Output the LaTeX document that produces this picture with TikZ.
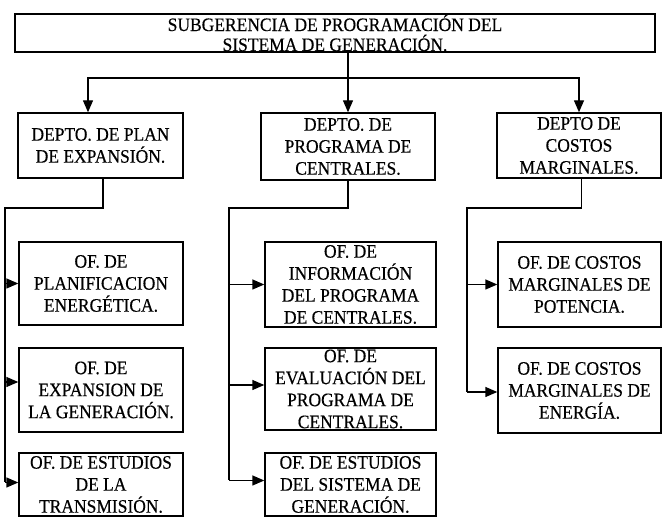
\documentclass[tikz,border=0pt]{standalone}
\usepackage{fontspec}
\setmainfont[FakeStretch=0.92, FakeBold=0.4]{Liberation Serif}
\usepackage{tikz}
\usetikzlibrary{arrows.meta}

\begin{document}
\begin{tikzpicture}[x=1pt, y=-1pt,
    unit/.style={draw, line width=1.4pt, align=center, inner sep=0pt,
      font=\fontsize{19}{22}\selectfont},
    link/.style={draw, line width=1.4pt},
    linkarrow/.style={link, -{Triangle[length=12pt, width=10pt]}}]
  \useasboundingbox (0,0) rectangle (662,518);
  % subgerencia
  \node[unit, minimum width=640pt, minimum height=38pt,
    font=\fontsize{19}{20}\selectfont] (sub) at (335,33)
    {SUBGERENCIA DE PROGRAMACIÓN DEL\\SISTEMA DE GENERACIÓN.};
  % departamentos
  \node[unit, minimum width=165pt, minimum height=65pt] (plan) at (100.5,145.5)
    {DEPTO. DE PLAN\\DE EXPANSIÓN.};
  \node[unit, minimum width=174pt, minimum height=67pt] (prog) at (348,146.5)
    {DEPTO. DE\\PROGRAMA DE\\CENTRALES.};
  \node[unit, minimum width=164pt, minimum height=65pt] (cost) at (579,145.5)
    {DEPTO DE\\COSTOS\\MARGINALES.};
  % oficinas
  \node[unit, minimum width=164pt, minimum height=83pt] (planA) at (101,283.5)
    {OF. DE\\PLANIFICACION\\ENERGÉTICA.};
  \node[unit, minimum width=164pt, minimum height=84pt] (planB) at (101,390)
    {OF. DE\\EXPANSION DE\\LA GENERACIÓN.};
  \node[unit, minimum width=164pt, minimum height=63pt] (planC) at (101,484.5)
    {OF. DE ESTUDIOS\\DE LA\\TRANSMISIÓN.};
  \node[unit, minimum width=171pt, minimum height=85pt] (progA) at (350.5,284.5)
    {OF. DE\\INFORMACIÓN\\DEL PROGRAMA\\DE CENTRALES.};
  \node[unit, minimum width=171pt, minimum height=82pt] (progB) at (350.5,389)
    {OF. DE\\EVALUACIÓN DEL\\PROGRAMA DE\\CENTRALES.};
  \node[unit, minimum width=171pt, minimum height=63pt] (progC) at (350.5,484.5)
    {OF. DE ESTUDIOS\\DEL SISTEMA DE\\GENERACIÓN.};
  \node[unit, minimum width=163pt, minimum height=85pt] (costA) at (579.5,284.5)
    {OF. DE COSTOS\\MARGINALES DE\\POTENCIA.};
  \node[unit, minimum width=163pt, minimum height=85pt] (costB) at (579.5,390.5)
    {OF. DE COSTOS\\MARGINALES DE\\ENERGÍA.};
  % entradas de las flechas
  \coordinate (planBin) at ([yshift=8pt]planB.west);
  \coordinate (planCin) at ([yshift=2pt]planC.west);
  \coordinate (progBin) at ([yshift=4pt]progB.west);
  \coordinate (progCin) at ([yshift=4pt]progC.west);
  \coordinate (costBin) at ([yshift=-1.5pt]costB.west);
  % subgerencia -> departamentos
  \coordinate (top) at (348,78);
  \draw[link] (sub.south -| top) -- (top);
  \draw[linkarrow] (top) -| ([xshift=-12.5pt]plan.north);
  \draw[linkarrow] (top) -- (prog.north);
  \draw[linkarrow] (top) -| (cost.north);
  % departamentos -> oficinas
  \coordinate (planbus) at (5,208);
  \coordinate (progbus) at (229,208);
  \coordinate (costbus) at (467,208);
  \draw[link] ([xshift=2.5pt]plan.south) |- (planbus) -- (planbus |- planCin);
  \draw[linkarrow] (planbus |- planA.west) -- (planA.west);
  \draw[linkarrow] (planbus |- planBin) -- (planBin);
  \draw[linkarrow] (planbus |- planCin) -- (planCin);
  \draw[link] (prog.south) |- (progbus) -- (progbus |- progCin);
  \draw[linkarrow] (progbus |- progA.west) -- (progA.west);
  \draw[linkarrow] (progbus |- progBin) -- (progBin);
  \draw[linkarrow] (progbus |- progCin) -- (progCin);
  \draw[link] ([xshift=2.5pt]cost.south) |- (costbus) -- (costbus |- costBin);
  \draw[linkarrow] (costbus |- costA.west) -- (costA.west);
  \draw[linkarrow] (costbus |- costBin) -- (costBin);
\end{tikzpicture}
\end{document}
